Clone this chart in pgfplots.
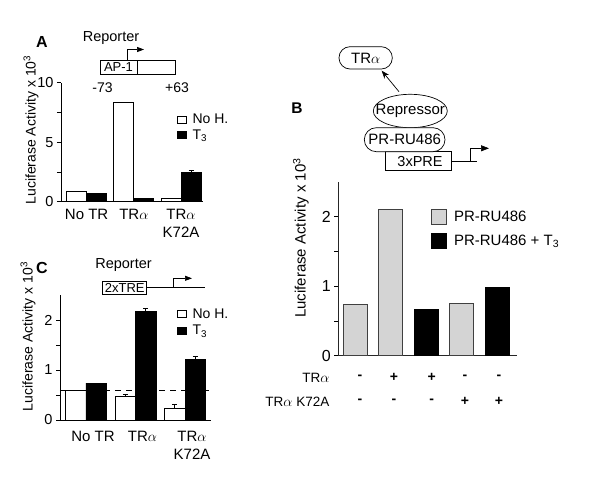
\documentclass[border=0pt]{standalone}
\usepackage{fontspec}
\setmainfont{Liberation Sans}
\usepackage{pgfplots}
\pgfplotsset{compat=1.18}
\usetikzlibrary{arrows.meta}

\newcommand\fs[2]{\fontsize{#1}{#2}\selectfont}

\pgfplotsset{
  panel/.style={
    scale only axis, axis lines*=left,
    axis line style={line width=0.8pt, black},
    tick align=outside, major tick length=4pt, minor tick length=4pt,
    tick style={line width=0.8pt, black},
    xtick style={draw=none},
    ymin=0, minor y tick num=1,
    ybar, clip=false,
    /pgf/number format/assume math mode=true,
    tick label style={font=\fs{14.5}{16}},
    xticklabel style={align=center, font=\fs{15}{18}},
    error bars/error bar style={line width=0.8pt, black},
    error bars/error mark options={rotate=90, mark size=2.5pt, line width=0.8pt, black},
    legend cell align=left,
  },
  sqA/.style={legend image code/.code={\draw[##1] (0pt,-3.5pt) rectangle (8.5pt,3.5pt);}},
  sqB/.style={legend image code/.code={\draw[##1] (0pt,-7.5pt) rectangle (15pt,7.5pt);}},
}

\begin{document}
\begin{tikzpicture}[font=\fs{14}{16}]
\path[use as bounding box, fill=white] (0pt,0pt) rectangle (600pt,-490pt);

% panel A
\begin{axis}[panel, at={(61pt,-201.7pt)}, anchor=south west,
  width=142pt, height=119pt, xmin=0.456, xmax=3.466, ymax=10,
  ytick={0,5,10}, bar width=20pt,
  xtick={1,2,3}, xticklabels={No TR, TR$\alpha$, {TR$\alpha$\\K72A}},
  legend style={at={(axis description cs:0.817,0.624)}, anchor=west,
    draw=none, fill=none, inner sep=0pt, font=\fs{14}{15}, row sep=0pt,
    /tikz/every odd column/.append style={column sep=4pt}}]
\addplot[forget plot, fill=white, draw=black, line width=0.8pt, bar shift=-10pt]
  coordinates {(1,0.87) (2,8.32) (3,0.31)};
\addplot[forget plot, fill=black, draw=black, line width=0.8pt, bar shift=10pt,
  error bars/.cd, y dir=plus, y explicit]
  coordinates {(1,0.7) +- (0,0) (2,0.3) +- (0,0) (3,2.45) +- (0,0.2)};
\addlegendimage{sqA, fill=white, draw=black, line width=0.8pt}
\addlegendentry{No H.}
\addlegendimage{sqA, fill=black, draw=black, line width=0.8pt}
\addlegendentry{T\textsubscript{3}}
\end{axis}

% panel C
\begin{axis}[panel, at={(60pt,-420pt)}, anchor=south west,
  width=151pt, height=125pt, xmin=0.475, xmax=3.525, ymax=2.5,
  ytick={0,1,2}, bar width=20.5pt,
  xtick={1,2,3}, xticklabels={No TR, TR$\alpha$, {TR$\alpha$\\K72A}},
  xticklabel style={xshift=7pt, yshift=-4pt},
  legend style={at={(axis description cs:0.775,0.78)}, anchor=west,
    draw=none, fill=none, inner sep=0pt, font=\fs{14}{15}, row sep=1.5pt,
    /tikz/every odd column/.append style={column sep=4pt}}]
\addplot[forget plot, fill=white, draw=black, line width=0.8pt, bar shift=-10.25pt,
  error bars/.cd, y dir=plus, y explicit]
  coordinates {(1,0.6) +- (0,0) (2,0.48) +- (0,0.03) (3,0.23) +- (0,0.08)};
\addplot[forget plot, fill=black, draw=black, line width=0.8pt, bar shift=10.25pt,
  error bars/.cd, y dir=plus, y explicit]
  coordinates {(1,0.74) +- (0,0) (2,2.17) +- (0,0.06) (3,1.21) +- (0,0.06)};
\addplot[forget plot, sharp plot, black, line width=0.8pt, dash pattern=on 6pt off 5pt]
  coordinates {(0.475,0.6) (3.525,0.6)};
\addlegendimage{sqA, fill=white, draw=black, line width=0.8pt}
\addlegendentry{No H.}
\addlegendimage{sqA, fill=black, draw=black, line width=0.8pt}
\addlegendentry{T\textsubscript{3}}
\end{axis}

% panel B
\begin{axis}[panel, at={(338.3pt,-355.7pt)}, anchor=south west,
  width=178.7pt, height=174pt, xmin=0.514, xmax=5.562, ymax=2.5,
  ytick={0,1,2}, xtick=\empty, bar width=24pt,
  axis line style={line width=1pt, black!85},
  tick label style={font=\fs{16}{18}},
  legend style={at={(axis description cs:0.519,0.728)}, anchor=west,
    draw=none, fill=none, inner sep=0pt, font=\fs{15}{17}, row sep=8pt,
    /tikz/every odd column/.append style={column sep=5pt}}]
\addplot[forget plot, fill=black!17, draw=black!75, line width=0.9pt, bar shift=0pt]
  coordinates {(1,0.73) (2,2.1) (4,0.75)};
\addplot[forget plot, fill=black, draw=black, line width=0.9pt, bar shift=0pt]
  coordinates {(3,0.67) (5,0.98)};
\addlegendimage{sqB, fill=black!17, draw=black!75, line width=0.8pt}
\addlegendentry{PR-RU486}
\addlegendimage{sqB, fill=black, draw=black}
\addlegendentry{PR-RU486 + T\textsubscript{3}}
\end{axis}

\begin{scope}[x=1pt, y=-1pt, line width=0.7pt]
% A decorations
\node[font=\bfseries\fs{16}{18}] at (42,42) {A};
\node[font=\fs{14.5}{16}] at (111,38) {Reporter};
\draw (100,60) rectangle (175.7,74);
\draw (137,60) -- (137,74);
\node[font=\fs{13}{14}] at (118.5,67) {AP-1};
\draw[-{Triangle[length=7pt,width=5pt]}] (127.7,60) -- (127.7,49.5) -- (144,49.5);
\node[font=\fs{14}{15}] at (102.5,88) {-73};
\node[font=\fs{14}{15}] at (177,88) {+63};
\node[rotate=90] at (31,130) {Luciferase Activity x 10\textsuperscript{3}};

% C decorations
\node[font=\bfseries\fs{16}{18}] at (42,268) {C};
\node[font=\fs{14.5}{16}] at (123.5,265) {Reporter};
\draw (102.7,281.7) rectangle (146.7,294);
\node[font=\fs{13}{14}] at (124.7,288) {2xTRE};
\draw (146.7,287.3) -- (205,287.3);
\draw[-{Triangle[length=7pt,width=5pt]}] (173.3,287.3) -- (173.3,278.3) -- (192,278.3);
\node[rotate=90] at (28,336.5) {Luciferase Activity x 10\textsuperscript{3}};

% B decorations
\node[font=\bfseries\fs{15.5}{17}] at (297,108) {B};
\draw[rounded corners=11pt] (339,46.7) rectangle (392.3,69);
\node[font=\fs{15}{16}] at (365.7,58) {TR$\alpha$};
\draw[-{Stealth[length=8pt,width=6pt]}] (399,91.7) -- (381.7,70.7);
\draw (410.3,111) ellipse [x radius=37pt, y radius=16.7pt];
\node[font=\fs{15}{16}] at (410.3,111) {Repressor};
\draw (385,151.7) rectangle (451.7,170.7);
\node[font=\fs{14.5}{16}] at (420,162) {3xPRE};
\draw[fill=white, rounded corners=12pt] (364.3,127.7) rectangle (445,151.7);
\node[font=\fs{15}{16}] at (404.7,139.7) {PR-RU486};
\draw (451.7,161.7) -- (476.7,161.7);
\draw[-{Triangle[length=8pt,width=6pt]}] (470.7,161.7) -- (470.7,148.3) -- (489,148.3);
\node[rotate=90, font=\fs{15}{16}] at (301,238) {Luciferase Activity x 10\textsuperscript{3}};

\node[anchor=east, font=\fs{13.5}{15}] at (333,378) {TR$\alpha$};
\node[anchor=east, font=\fs{13.5}{15}] at (333,402) {TR$\alpha$ K72A};
\foreach \x/\s in {360/-,394/+,431.7/+,465/-,499/-}
  \node[font=\bfseries\fs{14}{15}] at (\x,377) {\s};
\foreach \x/\s in {360/-,394/-,431.7/-,465/+,499/+}
  \node[font=\bfseries\fs{14}{15}] at (\x,401) {\s};
\end{scope}
\end{tikzpicture}
\end{document}
